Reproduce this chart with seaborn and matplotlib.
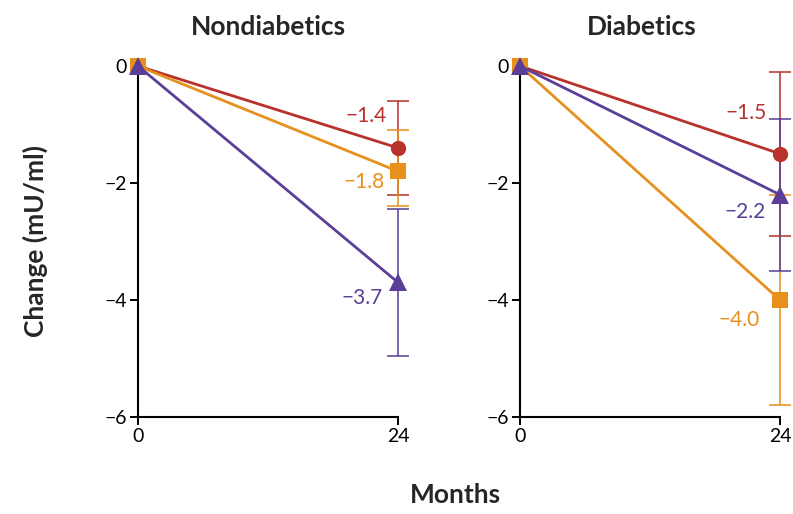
import numpy as np
import pandas as pd
import matplotlib
matplotlib.use("Agg")
import matplotlib.pyplot as plt
import seaborn as sns

sns.set_style("white")
plt.rcParams['font.family'] = ['Lato', 'DejaVu Sans']

months = [0, 24]
groups = ["Nondiabetics", "Diabetics"]
series = ["A", "B", "C"]
colors = {"A": "#B8322C", "B": "#E8901E", "C": "#5A3E98"}
markers = {"A": "o", "B": "s", "C": "^"}

# change at 24 months
nondiab_vals = {"A": -1.4, "B": -1.8, "C": -3.7}
diab_vals = {"A": -1.5, "B": -4.0, "C": -2.2}
# error bar ends (upper, lower) at 24 months
nondiab_err = {"A": (-0.6, -2.2), "B": (-1.1, -2.4), "C": (-2.45, -4.95)}
diab_err = {"A": (-0.1, -2.9), "B": (-2.2, -5.8), "C": (-0.9, -3.5)}
# label anchor positions (x = right edge in months, y = value units)
nondiab_lbl = {"A": (23.0, -0.85), "B": (22.8, -1.98), "C": (22.6, -3.97)}
diab_lbl = {"A": (22.8, -0.81), "B": (22.1, -4.34), "C": (22.7, -2.49)}

fig = plt.figure(figsize=(7.93, 5.14), dpi=100)
ax1 = fig.add_axes([138/793, 1-417/514, 260/793, (417-66)/514])
ax2 = fig.add_axes([520/793, 1-417/514, 260/793, (417-66)/514])

def draw(ax, vals, errs, lbl, title, tx):
    rows = []
    for s in series:
        rows.append({"Months": 0, "Change": 0.0, "s": s})
        rows.append({"Months": 24, "Change": vals[s], "s": s})
    df = pd.DataFrame(rows)
    for s in series:
        up, lo = errs[s]
        v = vals[s]
        ax.errorbar([24], [v], yerr=[[v - lo], [up - v]], fmt="none",
                    ecolor=colors[s], elinewidth=1.4, capsize=8, capthick=1.4,
                    clip_on=False, alpha=0.8, zorder=2)
    sns.lineplot(data=df, x="Months", y="Change", hue="s", style="s",
                 hue_order=series, style_order=series,
                 palette=colors, markers=markers, dashes=False, ax=ax,
                 linewidth=2.0, markersize=11, markeredgewidth=0,
                 legend=False, clip_on=False, zorder=3)
    for line in ax.lines:
        line.set_clip_on(False)
        if line.get_marker() == "^":
            line.set_markersize(13)
            line.set_zorder(4)
    for s in series:
        x, y = lbl[s]
        ax.text(x, y, f"\u2212{abs(vals[s]):.1f}", color=colors[s],
                ha="right", va="center", fontsize=15)
    ax.set_xlim(0, 24)
    ax.set_ylim(-6, 0)
    ax.set_xticks(months)
    ax.set_yticks([0, -2, -4, -6])
    ax.set_yticklabels(["0", "\u22122", "\u22124", "\u22126"])
    for sp in ["top", "right"]:
        ax.spines[sp].set_visible(False)
    for sp in ["left", "bottom"]:
        ax.spines[sp].set_color("black")
        ax.spines[sp].set_linewidth(1.5)
    ax.tick_params(axis="both", which="both", direction="out", length=6,
                   width=1.4, labelsize=14, colors="black", left=True, bottom=True,
                   pad=2)
    ax.set_xlabel("")
    ax.set_ylabel("")
    fig.text(tx/793, 1-27/514, title, ha="center", va="center",
             fontsize=19, fontweight="bold")

draw(ax1, nondiab_vals, nondiab_err, nondiab_lbl, groups[0], 268)
draw(ax2, diab_vals, diab_err, diab_lbl, groups[1], 642)

fig.text(35/793, 1-241/514, "Change (mU/ml)", rotation=90, ha="center",
         va="center", fontsize=19, fontweight="bold")
fig.text(455/793, 1-495/514, "Months", ha="center", va="center",
         fontsize=19, fontweight="bold")

fig.savefig("out.png", dpi=100)
